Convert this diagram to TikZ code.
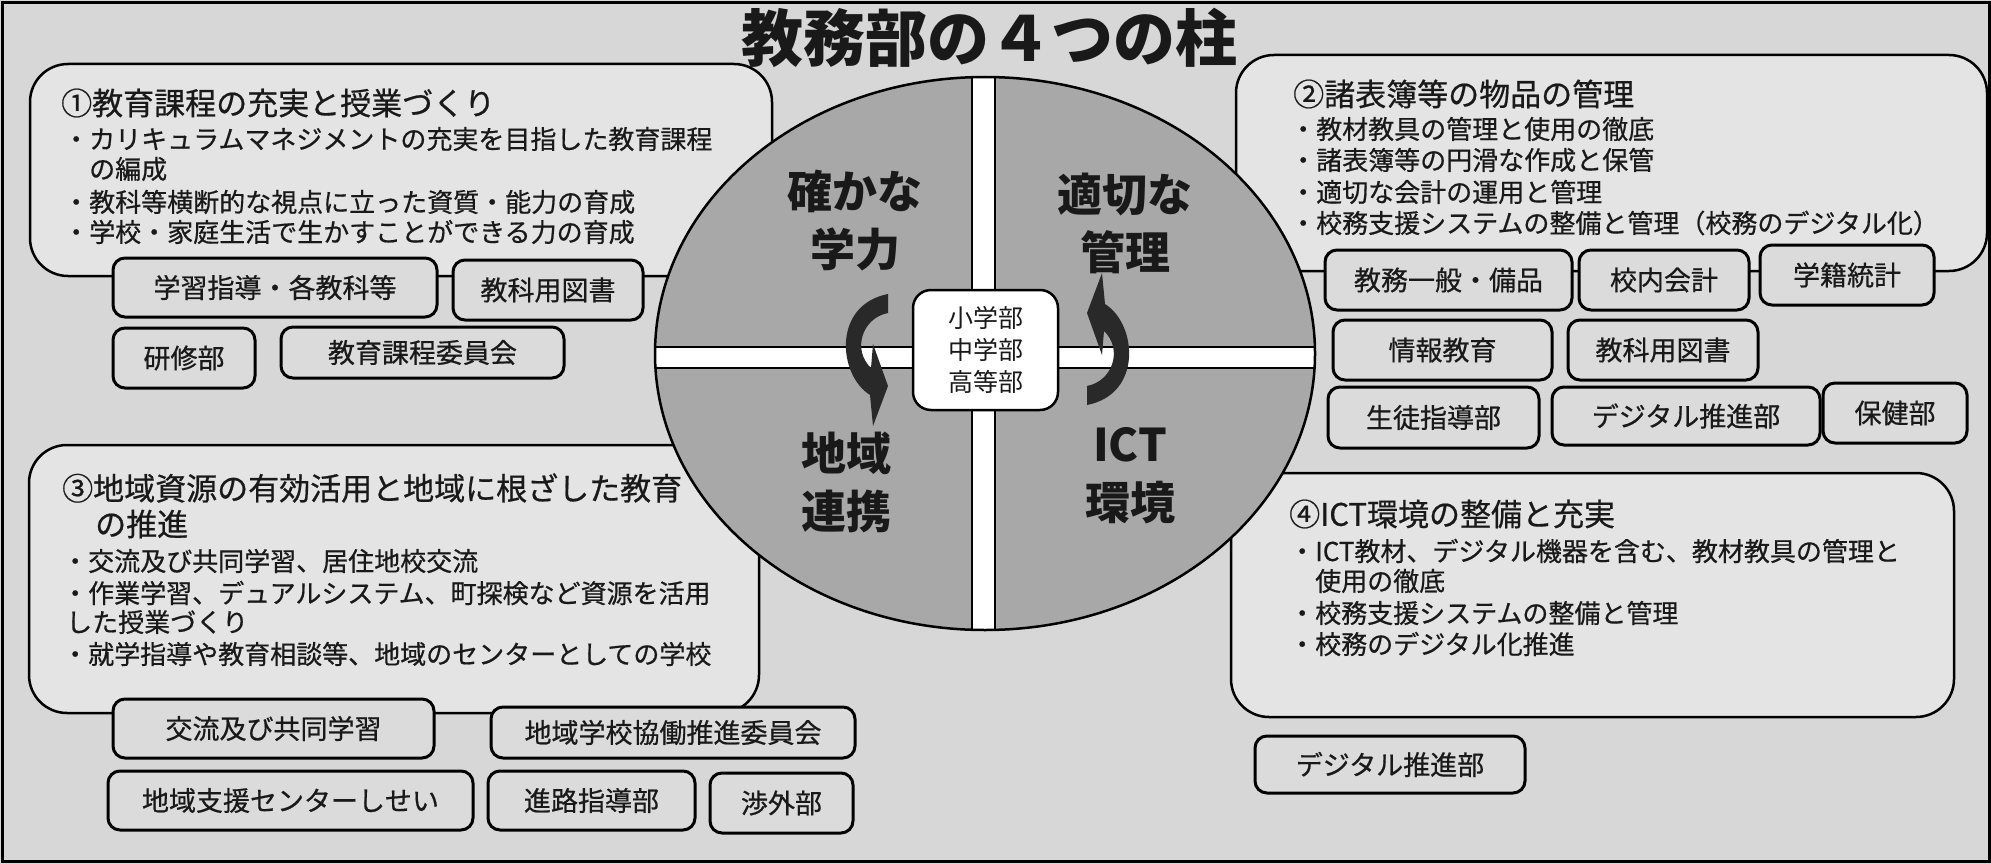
\documentclass[tikz,border=0pt]{standalone}
\usepackage{fontspec}
\setmainfont{Noto Sans CJK JP}
\newfontfamily\medjp{Noto Sans CJK JP}[FakeBold=0.6]
\definecolor{bgc}{gray}{0.845}
\definecolor{boxc}{gray}{0.895}
\definecolor{smc}{gray}{0.86}
\definecolor{circc}{gray}{0.66}
\definecolor{arrc}{gray}{0.16}
\definecolor{txt}{gray}{0.1}
\tikzset{
  bigbox/.style={draw=black, line width=2.5pt, fill=boxc, rounded corners=38pt, inner sep=0pt},
  smallbox/.style={draw=black, line width=3pt, fill=smc, rounded corners=12pt, inner sep=0pt, font=\medjp\fontsize{27}{32}\selectfont, text=txt},
  headtxt/.style={anchor=west, inner sep=0pt, font=\medjp\fontsize{31}{36}\selectfont, text=txt},
  bodytxt/.style={anchor=west, inner sep=0pt, font=\medjp\fontsize{26}{30}\selectfont, text=txt},
  quad/.style={align=center, inner sep=0pt, font=\bfseries\fontsize{45}{58}\selectfont, text=txt},
  arrowshape/.style={fill=arrc},
}
\begin{document}
\begin{tikzpicture}[x=1pt,y=-1pt]
\useasboundingbox (0,0) rectangle (1991,864);
\fill[bgc] (0,0) rectangle (1991,864);
\draw[line width=3pt] (2,3) rectangle (1989,861);

% big boxes
\node[bigbox, minimum width=742pt, minimum height=212pt] (b1) at (401,170) {};
\node[bigbox, minimum width=751pt, minimum height=216pt] (b2) at (1611.5,163) {};
\node[bigbox, minimum width=730pt, minimum height=268pt] (b3) at (394,579) {};
\node[bigbox, minimum width=723pt, minimum height=244pt] (b4) at (1592.5,595) {};

% box 1 text
\node[headtxt] (t1h) at (61,103) {①教育課程の充実と授業づくり};
\node[bodytxt] (t1a) at (63,139) {・カリキュラムマネジメントの充実を目指した教育課程};
\node[bodytxt] (t1b) at (89,169) {の編成};
\node[bodytxt] (t1c) at (63,202) {・教科等横断的な視点に立った資質・能力の育成};
\node[bodytxt] (t1d) at (63,232) {・学校・家庭生活で生かすことができる力の育成};

% box 2 text
\node[headtxt] (t2h) at (1293,94) {②諸表簿等の物品の管理};
\node[bodytxt] (t2a) at (1290,129) {・教材教具の管理と使用の徹底};
\node[bodytxt] (t2b) at (1290,160) {・諸表簿等の円滑な作成と保管};
\node[bodytxt] (t2c) at (1290,192) {・適切な会計の運用と管理};
\node[bodytxt] (t2d) at (1290,223) {・校務支援システムの整備と管理（校務のデジタル化）};

% box 3 text
\node[headtxt] (t3h) at (62,488) {③地域資源の有効活用と地域に根ざした教育};
\node[headtxt] (t3i) at (95,524) {の推進};
\node[bodytxt] (t3a) at (62,561) {・交流及び共同学習、居住地校交流};
\node[bodytxt] (t3b) at (62,593) {・作業学習、デュアルシステム、町探検など資源を活用};
\node[bodytxt] (t3c) at (66,622) {した授業づくり};
\node[bodytxt] (t3d) at (62,654) {・就学指導や教育相談等、地域のセンターとしての学校};

% box 4 text
\node[headtxt] (t4h) at (1289,514) {④ICT環境の整備と充実};
\node[bodytxt] (t4a) at (1289,551) {・ICT教材、デジタル機器を含む、教材教具の管理と};
\node[bodytxt] (t4b) at (1315,581) {使用の徹底};
\node[bodytxt] (t4c) at (1289,613) {・校務支援システムの整備と管理};
\node[bodytxt] (t4d) at (1289,644) {・校務のデジタル化推進};

% circle
\fill[circc] (985,353.5) ellipse [x radius=330, y radius=276.5];
\begin{scope}
\clip (985,353.5) ellipse [x radius=330, y radius=276.5];
\draw[fill=white, line width=2pt] (640,347) rectangle (1330,368);
\draw[fill=white, line width=2pt] (972,60) rectangle (995,650);
\end{scope}
\draw[line width=2.5pt] (985,353.5) ellipse [x radius=330, y radius=276.5];

% quadrant labels
\node[quad] (q1) at (855,221) {確かな\\学力};
\node[quad] (q2) at (1125,223) {適切な\\管理};
\node[quad] (q3) at (846,482) {地域\\連携};
\node[quad] (q4) at (1130,476) {ICT\\環境};

% curved arrows
\fill[arrowshape] (888,294) -- (888,313) .. controls (862,318) and (852,350) .. (871,368)
  -- (873,344) -- (888,386) -- (873,426) -- (870,395)
  .. controls (838,375) and (832,305) .. (888,294) -- cycle;
\begin{scope}[rotate around={180:(987.5,349.5)}]
\fill[arrowshape] (888,294) -- (888,313) .. controls (862,318) and (852,350) .. (871,368)
  -- (873,344) -- (888,386) -- (873,426) -- (870,395)
  .. controls (838,375) and (832,305) .. (888,294) -- cycle;
\end{scope}

% centre box
\node[draw=black, line width=2.5pt, fill=white, rounded corners=18pt, minimum width=145pt, minimum height=120pt, align=center, inner sep=0pt, font=\fontsize{25}{32}\selectfont, text=txt] (center) at (985.5,350) {小学部\\中学部\\高等部};

% title
\node[inner sep=0pt, font=\bfseries\fontsize{62}{70}\selectfont, text=txt] (title) at (989,38) {教務部の４つの柱};

% small boxes: pillar 1
\node[smallbox, minimum width=324pt, minimum height=59pt] (s11) at (275,287.5) {学習指導・各教科等};
\node[smallbox, minimum width=190pt, minimum height=60pt] (s12) at (548,290) {教科用図書};
\node[smallbox, minimum width=142pt, minimum height=60pt] (s13) at (184,358) {研修部};
\node[smallbox, minimum width=283pt, minimum height=51pt] (s14) at (422.5,352.5) {教育課程委員会};

% pillar 2
\node[smallbox, minimum width=247pt, minimum height=60pt] (s21) at (1448.5,280) {教務一般・備品};
\node[smallbox, minimum width=170pt, minimum height=60pt] (s22) at (1664,280) {校内会計};
\node[smallbox, minimum width=174pt, minimum height=60pt] (s23) at (1847,275) {学籍統計};
\node[smallbox, minimum width=219pt, minimum height=60pt] (s24) at (1442.5,350) {情報教育};
\node[smallbox, minimum width=190pt, minimum height=60pt] (s25) at (1663,350) {教科用図書};
\node[smallbox, minimum width=211pt, minimum height=61pt] (s26) at (1433.5,417.5) {生徒指導部};
\node[smallbox, minimum width=268pt, minimum height=58pt] (s27) at (1686,416) {デジタル推進部};
\node[smallbox, minimum width=144pt, minimum height=60pt] (s28) at (1895,413) {保健部};

% pillar 3
\node[smallbox, minimum width=321pt, minimum height=59pt] (s31) at (273.5,728.5) {交流及び共同学習};
\node[smallbox, minimum width=364pt, minimum height=51pt] (s32) at (673,732.5) {地域学校協働推進委員会};
\node[smallbox, minimum width=365pt, minimum height=59pt] (s33) at (290.5,800.5) {地域支援センターしせい};
\node[smallbox, minimum width=207pt, minimum height=59pt] (s34) at (591.5,800.5) {進路指導部};
\node[smallbox, minimum width=143pt, minimum height=60pt] (s35) at (781.5,803) {渉外部};

% pillar 4
\node[smallbox, minimum width=270pt, minimum height=57pt] (s41) at (1390,764.5) {デジタル推進部};
\end{tikzpicture}
\end{document}
